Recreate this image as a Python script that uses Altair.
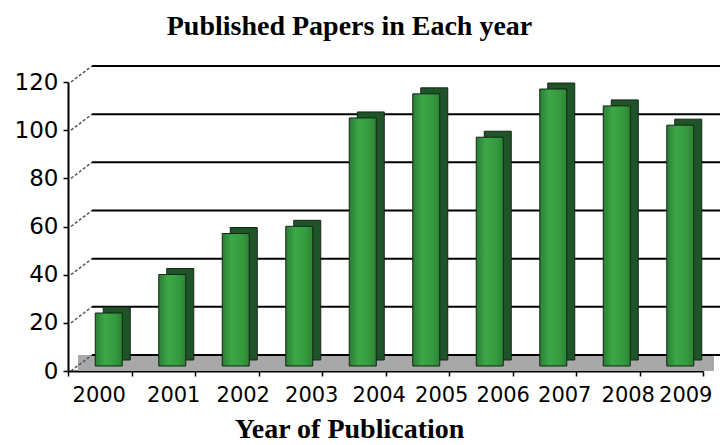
import altair as alt
import pandas as pd

# ---- data ----
years = ["2000", "2001", "2002", "2003", "2004", "2005", "2006", "2007", "2008", "2009"]
papers = [22, 38, 55, 58, 103, 113, 95, 115, 108, 100]
y_ticks = [0, 20, 40, 60, 80, 100, 120]
chart_title = "Published Papers in Each year"
x_title = "Year of Publication"

df = pd.DataFrame({"year": years, "papers": papers})
grid_df = pd.DataFrame({"v": y_ticks})

# ---- layout / style ----
W, H = 635, 289
DEPTH_X, DEPTH_Y = 24, -16
label_shift = {"2000": -1, "2001": 10, "2002": 16, "2003": 21, "2004": 25,
               "2005": 24, "2006": 22, "2007": 20, "2008": 20, "2009": 14}
label_offset = {
    "condition": [{"test": f"datum.value == '{k}'", "value": v} for k, v in label_shift.items()],
    "value": 0,
}

front_fill = alt.LinearGradient(
    gradient="linear", x1=0, x2=1, y1=0, y2=0,
    stops=[alt.GradientStop(color="#2a7d33", offset=0),
           alt.GradientStop(color="#3ca847", offset=0.35),
           alt.GradientStop(color="#35993e", offset=0.75),
           alt.GradientStop(color="#2b8334", offset=1)],
)

x_scale = alt.Scale(domain=years, paddingInner=0, paddingOuter=0)
y_scale = alt.Scale(domain=[0, 120], nice=False, zero=True)

x_axis = alt.Axis(
    title=x_title, titleFont="Liberation Serif", titleFontSize=28,
    titleFontWeight="bold", titleColor="black",
    titleX=281, titleY=66, titleAlign="center", titleBaseline="alphabetic",
    labelAngle=0, labelFont="DejaVu Sans", labelFontSize=21, labelColor="black",
    labelOverlap=False, labelOffset=label_offset, labelPadding=8,
    tickBand="extent", tickSize=5, tickColor="black", tickWidth=1.5,
    domainColor="black", domainWidth=2,
)
y_axis = alt.Axis(
    values=y_ticks, grid=False, title=None,
    labelFont="DejaVu Sans", labelFontSize=23, labelColor="black", labelPadding=5,
    tickSize=5, tickColor="black", tickWidth=1.5,
    domainColor="black", domainWidth=2,
)

floor = alt.Chart(grid_df).transform_filter("datum.v == 0").mark_rect(
    color="#a8a8a8", y2Offset=DEPTH_Y
).encode(
    x=alt.value(10), x2=alt.value(W + 11),
    y=alt.Y("v:Q", scale=y_scale, axis=y_axis), y2="v:Q",
)

connectors = alt.Chart(grid_df).mark_rule(
    color="#555555", strokeWidth=1.5, strokeDash=[3, 2], y2Offset=DEPTH_Y
).encode(
    x=alt.value(3), x2=alt.value(DEPTH_X),
    y=alt.Y("v:Q", scale=y_scale, axis=y_axis), y2="v:Q",
)

back_grid = alt.Chart(grid_df).mark_rule(
    color="black", strokeWidth=2, yOffset=DEPTH_Y
).encode(
    x=alt.value(DEPTH_X), x2=alt.value(W + 17),
    y=alt.Y("v:Q", scale=y_scale, axis=y_axis),
)

bar_side = alt.Chart(df).mark_bar(
    color="#1e5427", size=27, xOffset=17, yOffset=-11, y2Offset=-11,
    stroke="#122615", strokeWidth=1
).encode(
    x=alt.X("year:N", scale=x_scale, axis=x_axis),
    y=alt.Y("papers:Q", scale=y_scale, axis=y_axis),
)

bar_front = alt.Chart(df).mark_bar(
    color=front_fill, size=27, xOffset=9, yOffset=-5, y2Offset=-5,
    stroke="#122615", strokeWidth=1
).encode(
    x=alt.X("year:N", scale=x_scale, axis=x_axis),
    y=alt.Y("papers:Q", scale=y_scale, axis=y_axis),
)

chart = alt.layer(floor, back_grid, connectors, bar_side, bar_front).properties(
    width=W, height=H,
    background="white",
    title=alt.TitleParams(chart_title, font="Liberation Serif", fontSize=28,
                          fontWeight="bold", color="black", anchor="middle",
                          dx=-36, offset=2, baseline="alphabetic"),
    autosize=alt.AutoSizeParams(type="none"),
    padding={"left": 68, "top": 82, "right": 17, "bottom": 74},
).configure_view(stroke="transparent", strokeWidth=0)

chart.save("out.html", embed_options={"renderer": "svg", "actions": False})
